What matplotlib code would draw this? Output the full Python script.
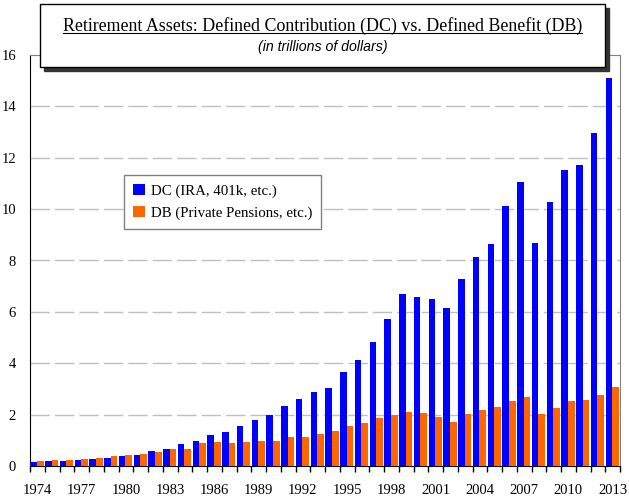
#import used libraries
import numpy as np
from matplotlib import pyplot as plt
from matplotlib.patches import Rectangle, Patch
from matplotlib.lines import Line2D

#data (trillions of dollars)
years = list(range(1974, 2014))
dc_assets = [0.17, 0.21, 0.21, 0.25, 0.29, 0.33, 0.40, 0.44, 0.57, 0.68,
             0.84, 0.99, 1.19, 1.34, 1.54, 1.81, 1.97, 2.32, 2.59, 2.90,
             3.05, 3.67, 4.12, 4.82, 5.73, 6.69, 6.58, 6.50, 6.15, 7.28,
             8.13, 8.64, 10.12, 11.05, 8.68, 10.27, 11.52, 11.71, 12.96, 15.10]
db_assets = [0.18, 0.25, 0.25, 0.29, 0.33, 0.37, 0.44, 0.45, 0.53, 0.65,
             0.68, 0.88, 0.92, 0.88, 0.92, 0.99, 0.99, 1.14, 1.14, 1.26,
             1.37, 1.56, 1.68, 1.88, 2.00, 2.12, 2.08, 1.92, 1.72, 2.03,
             2.19, 2.30, 2.54, 2.69, 2.03, 2.27, 2.54, 2.58, 2.77, 3.08]
series_labels = ['DC (IRA, 401k, etc.)', 'DB (Private Pensions, etc.)']
year_labels = list(range(1974, 2014, 3))
y_ticks = list(range(0, 17, 2))
title = 'Retirement Assets: Defined Contribution (DC) vs. Defined Benefit (DB)'
subtitle = '(in trillions of dollars)'

blue = '#0000ff'
orange = '#ff6600'
serif = 'Liberation Serif'

#figure 629x498 px
fig = plt.figure(figsize=(6.29, 4.98), dpi=100)
ax = fig.add_axes([30/629, 32/498, 590/629, 411/498])

x = np.array(years)
ax.bar(x + 0.02, dc_assets, width=0.45, align='edge', color=blue, zorder=3)
ax.bar(x + 0.47, db_assets, width=0.46, align='edge', color=orange, zorder=3)

ax.set_xlim(1974, 2014)
ax.set_ylim(0, 16)

#dashed grid
for v in y_ticks[1:-1]:
    ax.axhline(v, color='#c0c0c0', lw=1.0, dashes=(14, 3.6), zorder=1)

#spines
ax.spines['left'].set_color('black')
ax.spines['bottom'].set_color('black')
ax.spines['top'].set_color('#808080')
ax.spines['right'].set_color('#808080')

#x ticks: marks at year boundaries, labels at group centers
ax.set_xticks([y + 0.5 for y in year_labels])
ax.set_xticklabels([str(y) for y in year_labels], fontfamily=serif, fontsize=10.5)
ax.set_xticks(list(range(1974, 2015)), minor=True)
ax.tick_params(axis='x', which='major', length=0, pad=13)
ax.tick_params(axis='x', which='minor', length=4, width=1, color='black', direction='out')

#y ticks
ax.set_yticks(y_ticks)
ax.set_yticklabels([str(v) for v in y_ticks], fontfamily=serif, fontsize=10.5)
ax.set_yticks([0, 16], minor=True)
ax.tick_params(axis='y', which='major', length=0, pad=10)
ax.tick_params(axis='y', which='minor', length=7, width=1, color='#808080')

#legend
handles = [Patch(facecolor=blue, edgecolor='none'), Patch(facecolor=orange, edgecolor='none')]
leg = ax.legend(handles, series_labels, loc='upper left',
                bbox_to_anchor=(94/590, 291/411), borderaxespad=0,
                prop={'family': serif, 'size': 10.7}, fancybox=False,
                edgecolor='#808080', framealpha=1, handlelength=0.8,
                handleheight=0.8, handletextpad=0.4, labelspacing=0.55,
                borderpad=0.6)
leg.get_frame().set_linewidth(1.0)
leg.set_zorder(5)

#title box with shadow (pixel coords -> figure fraction)
W, H = 629, 498
bx0, bx1, by0, by1 = 40, 605, 4, 67
fig.patches.append(Rectangle(((bx0+4)/W, 1-(by1+4)/H), (bx1-bx0)/W, (by1-by0)/H,
                             transform=fig.transFigure, facecolor='#333333',
                             edgecolor='#333333', zorder=10))
fig.patches.append(Rectangle((bx0/W, 1-by1/H), (bx1-bx0)/W, (by1-by0)/H,
                             transform=fig.transFigure, facecolor='white',
                             edgecolor='black', lw=1.0, zorder=11))
t = fig.text(322.5/W, 1-26/H, title, ha='center', va='center',
             fontfamily=serif, fontsize=12.9, zorder=12)
fig.text(322.5/W, 1-47/H, subtitle, ha='center', va='center',
         fontfamily='Liberation Sans', fontstyle='italic', fontsize=10.2, zorder=12)

#underline the title
fig.canvas.draw()
bb = t.get_window_extent().transformed(fig.transFigure.inverted())
uy = bb.y0 + 1.5/H
fig.lines.append(Line2D([bb.x0, bb.x1], [uy, uy], transform=fig.transFigure,
                        color='black', lw=0.8, zorder=12))

plt.savefig('out.png', dpi=100)
plt.close()
